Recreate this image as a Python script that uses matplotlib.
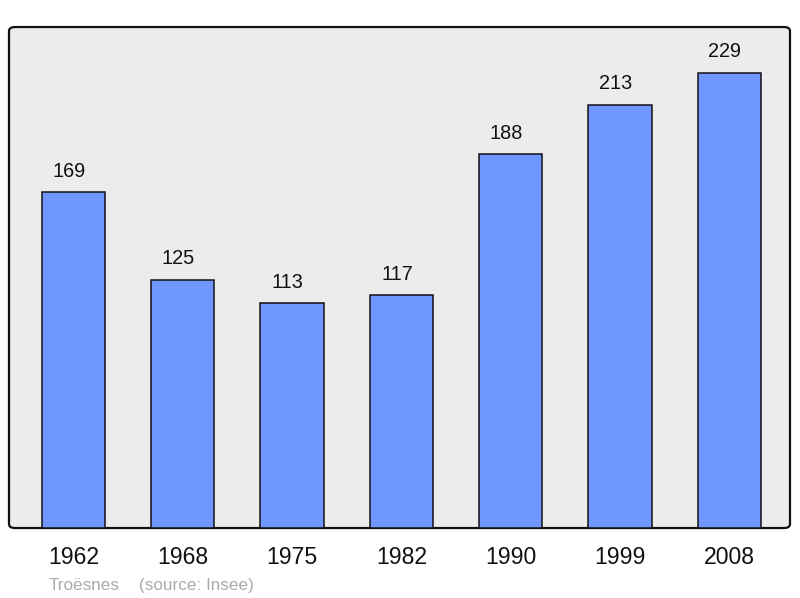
import numpy as np
import matplotlib.pyplot as plt
from matplotlib.patches import FancyBboxPatch

plt.rcParams['font.family'] = ['Liberation Sans', 'DejaVu Sans']

years = ['1962', '1968', '1975', '1982', '1990', '1999', '2008']
population = [169, 125, 113, 117, 188, 213, 229]

fig = plt.figure(figsize=(8, 5.98), dpi=100)
ax = fig.add_axes([0.01125, 0.117, 0.97625, 0.8378])
ax.set_facecolor('none')

# rounded grey panel
panel = FancyBboxPatch((0, 0), 1, 1, boxstyle='round,pad=0,rounding_size=0.008',
                       transform=ax.transAxes, facecolor='#ececec',
                       edgecolor='#111111', linewidth=1.6, clip_on=False,
                       zorder=0)
ax.add_patch(panel)

x = np.arange(len(years))
bars = ax.bar(x, population, width=0.58, color='#7096ff', edgecolor='#111111',
              linewidth=1.1, zorder=2)

# value labels sit a little left of the bar centre in the original
for xi, v in zip(x, population):
    ax.annotate(str(v), (xi, v), xytext=(-3.2, 11), textcoords='offset points',
                ha='center', va='baseline', fontsize=14.3, color='#111111')

ax.set_xlim(-0.59, 6.555)
ax.set_ylim(0, 252)
for s in ax.spines.values():
    s.set_visible(False)
ax.set_yticks([])
ax.set_xticks(x)
ax.set_xticklabels(years, fontsize=16.6, color='#111111')
ax.tick_params(axis='x', length=0, pad=13)

fig.text(49 / 800, 1 - 590 / 598, 'Troësnes', fontsize=12.3, color='#aaaaaa',
         ha='left', va='baseline')
fig.text(139 / 800, 1 - 590 / 598, '(source: Insee)', fontsize=12.3,
         color='#aaaaaa', ha='left', va='baseline')

fig.savefig('out.png', dpi=100)
